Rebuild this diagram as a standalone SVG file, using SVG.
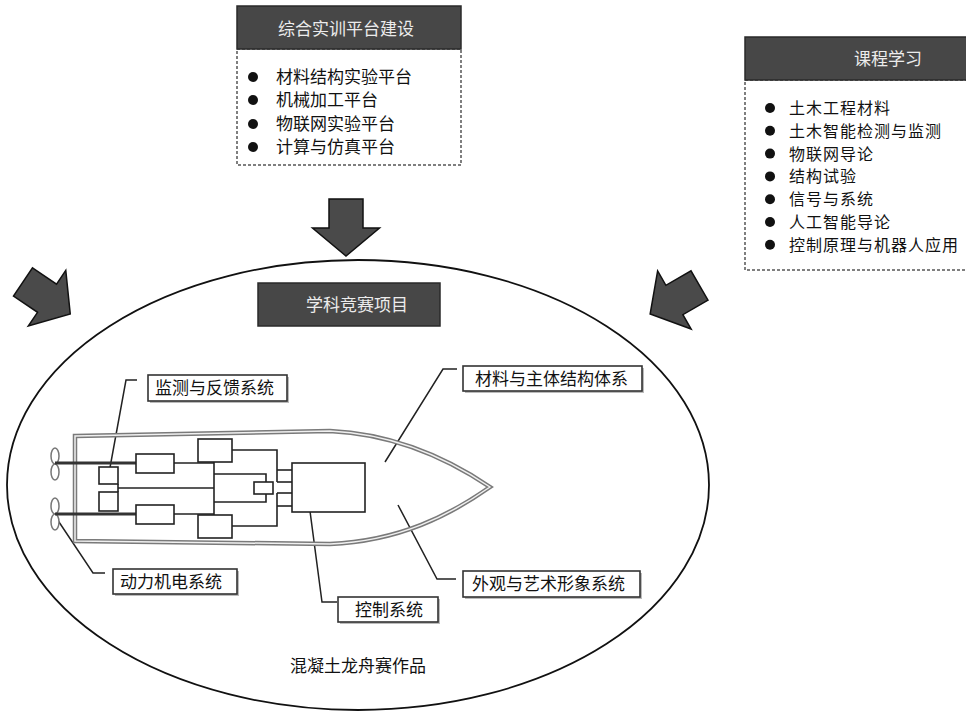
<svg xmlns="http://www.w3.org/2000/svg" width="966" height="711" viewBox="0 0 966 711">
<defs>
<style>
.hdr{fill:#474747;stroke:#2a2a2a;stroke-width:1.5}
.hdrt{fill:#ececec;font-family:"Noto Sans CJK SC",sans-serif;font-size:17px;text-anchor:middle}
.dash{fill:#fff;stroke:#555;stroke-width:1.5;stroke-dasharray:3 2}
.item{fill:#111;font-family:"Noto Sans CJK SC",sans-serif;font-size:17px}
.item2{fill:#111;font-family:"Noto Sans CJK SC",sans-serif;font-size:16px;letter-spacing:1px}
.lbl{fill:#fff;stroke:#333;stroke-width:1.6}
.lbls{fill:#bbb}
.lblt{fill:#111;font-family:"Noto Sans CJK SC",sans-serif;font-size:17px}
.arr{fill:#4a4a4a;stroke:#111;stroke-width:1.5;stroke-linejoin:miter}
.lead{fill:none;stroke:#222;stroke-width:1.5}
.w{fill:none;stroke:#222;stroke-width:1.6}
.bx{fill:#fff;stroke:#222;stroke-width:1.6}
.shaft{fill:none;stroke:#333;stroke-width:3}
.blade{fill:#fff;stroke:#777;stroke-width:1.5}
.dot{fill:#111}
</style>
<path id="blk" d="M0,-17 L29,-17 L29,-33.5 L57,0 L29,33.5 L29,17 L0,17 Z"/>
</defs>
<rect width="966" height="711" fill="#fff"/>

<g id="ellipse-region">
<ellipse cx="358" cy="485" rx="351" ry="225" fill="none" stroke="#111" stroke-width="1.8"/>
</g>

<g id="node-platform">
<rect class="dash" x="237" y="49" width="224" height="116"/>
<rect class="hdr" x="237" y="6" width="224" height="43"/>
<text class="hdrt" x="346" y="35">综合实训平台建设</text>
<circle class="dot" cx="253" cy="77" r="5"/>
<circle class="dot" cx="253" cy="100" r="5"/>
<circle class="dot" cx="253" cy="124" r="5"/>
<circle class="dot" cx="253" cy="147" r="5"/>
<text class="item" x="276" y="83">材料结构实验平台</text>
<text class="item" x="276" y="106">机械加工平台</text>
<text class="item" x="276" y="130">物联网实验平台</text>
<text class="item" x="276" y="153">计算与仿真平台</text>
</g>

<g id="node-courses">
<rect class="dash" x="745" y="80" width="290" height="190"/>
<rect class="hdr" x="745" y="37" width="290" height="43"/>
<text class="hdrt" x="888" y="65">课程学习</text>
<circle class="dot" cx="770" cy="108" r="5"/>
<circle class="dot" cx="770" cy="130.8" r="5"/>
<circle class="dot" cx="770" cy="153.6" r="5"/>
<circle class="dot" cx="770" cy="176.4" r="5"/>
<circle class="dot" cx="770" cy="199.2" r="5"/>
<circle class="dot" cx="770" cy="222" r="5"/>
<circle class="dot" cx="770" cy="244.8" r="5"/>
<text class="item2" x="789" y="114">土木工程材料</text>
<text class="item2" x="789" y="136.8">土木智能检测与监测</text>
<text class="item2" x="789" y="159.6">物联网导论</text>
<text class="item2" x="789" y="182.4">结构试验</text>
<text class="item2" x="789" y="205.2">信号与系统</text>
<text class="item2" x="789" y="228">人工智能导论</text>
<text class="item2" x="789" y="250.8">控制原理与机器人应用</text>
</g>

<g id="connectors">
<use href="#blk" class="arr" transform="translate(346,199) rotate(90)"/>
<use href="#blk" class="arr" transform="translate(23,282) rotate(34)"/>
<use href="#blk" class="arr" transform="translate(699.5,285.5) rotate(150)"/>
<polyline class="lead" points="137,380 126,380 109,473"/>
<polyline class="lead" points="457,369 443,369 385,462"/>
<polyline class="lead" points="398,505 437,579 456,579"/>
<polyline class="lead" points="308,496 322,602 337,602"/>
<polyline class="lead" points="55,516 93,573 105,573"/>
</g>

<g id="node-competition">
<rect class="hdr" x="258" y="283" width="182" height="43"/>
<text class="hdrt" x="357" y="311">学科竞赛项目</text>
</g>

<g id="node-boat">
<path d="M75,436 L330,431 C395,434 450,460 490,487 C450,515 400,541 330,544 L75,541 Z" fill="none" stroke="#7a7a7a" stroke-width="4.5"/>
<path d="M75,436 L330,431 C395,434 450,460 490,487 C450,515 400,541 330,544 L75,541 Z" fill="none" stroke="#f0f0f0" stroke-width="1.5"/>
<ellipse class="blade" cx="55" cy="456" rx="4" ry="8"/>
<ellipse class="blade" cx="55" cy="472" rx="4" ry="8"/>
<ellipse class="blade" cx="55" cy="506" rx="4" ry="8"/>
<ellipse class="blade" cx="55" cy="522" rx="4" ry="8"/>
<line class="shaft" x1="55" y1="463" x2="136" y2="463"/>
<line class="shaft" x1="55" y1="514" x2="136" y2="514"/>
<rect class="bx" x="99" y="467" width="19" height="17"/>
<rect class="bx" x="99" y="492" width="19" height="19"/>
<polyline class="w" points="118,484 118,492"/>
<line class="w" x1="118" y1="488" x2="214" y2="488"/>
<rect class="bx" x="136" y="454" width="38" height="19"/>
<rect class="bx" x="136" y="505" width="38" height="19"/>
<line class="w" x1="174" y1="463" x2="214" y2="463"/>
<line class="w" x1="174" y1="514" x2="214" y2="514"/>
<line class="w" x1="214" y1="462" x2="214" y2="515"/>
<rect class="bx" x="198" y="439" width="34" height="23"/>
<rect class="bx" x="198" y="515" width="34" height="23"/>
<polyline class="w" points="232,450 277,450 277,482"/>
<polyline class="w" points="232,526 277,526 277,493"/>
<line class="w" x1="277" y1="470" x2="292" y2="470"/>
<line class="w" x1="277" y1="482" x2="292" y2="482"/>
<line class="w" x1="277" y1="493" x2="292" y2="493"/>
<line class="w" x1="277" y1="506" x2="292" y2="506"/>
<polyline class="w" points="214,474 266,474 266,482"/>
<polyline class="w" points="214,502 266,502 266,494"/>
<rect class="bx" x="254" y="482" width="19" height="12"/>
<rect class="bx" x="292" y="463" width="73" height="49"/>
</g>

<g id="label-monitor">
<rect class="lbls" x="150" y="377" width="139" height="26"/>
<rect class="lbl" x="148" y="375" width="139" height="26"/>
<text class="lblt" x="155" y="394">监测与反馈系统</text>
</g>
<g id="label-material">
<rect class="lbls" x="465" y="368" width="179" height="25"/>
<rect class="lbl" x="463" y="366" width="179" height="25"/>
<text class="lblt" x="475" y="385">材料与主体结构体系</text>
</g>
<g id="label-appearance">
<rect class="lbls" x="465" y="573" width="177" height="26"/>
<rect class="lbl" x="463" y="571" width="177" height="26"/>
<text class="lblt" x="472" y="590">外观与艺术形象系统</text>
</g>
<g id="label-control">
<rect class="lbls" x="340" y="599" width="100" height="25"/>
<rect class="lbl" x="338" y="597" width="100" height="25"/>
<text class="lblt" x="355" y="616">控制系统</text>
</g>
<g id="label-power">
<rect class="lbls" x="115" y="571" width="124" height="25"/>
<rect class="lbl" x="113" y="569" width="124" height="25"/>
<text class="lblt" x="120" y="588">动力机电系统</text>
</g>
<g id="caption">
<text class="lblt" x="290" y="672" fill="#333">混凝土龙舟赛作品</text>
</g>
</svg>
